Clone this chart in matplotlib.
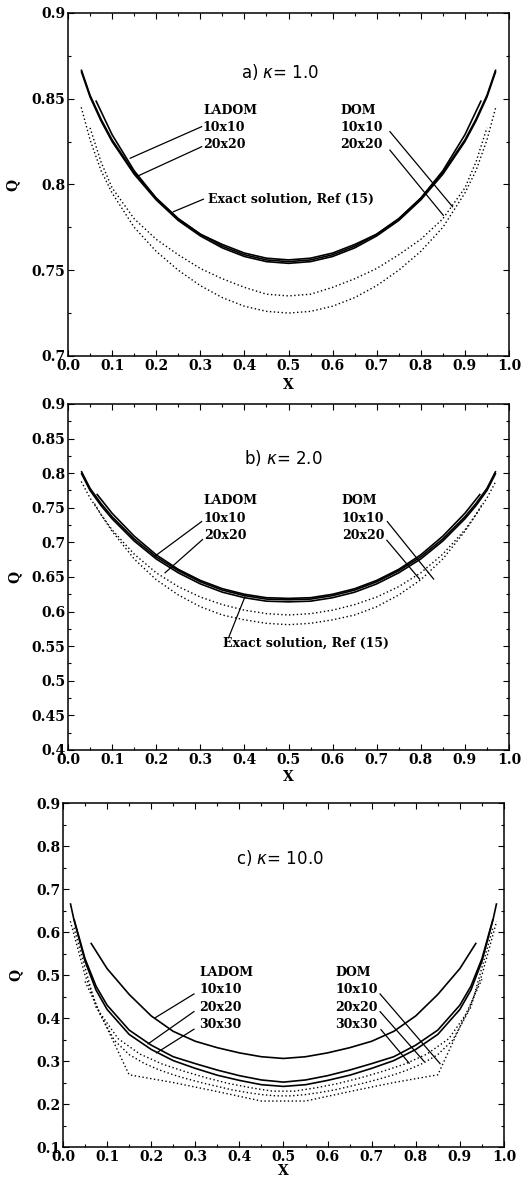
import matplotlib
matplotlib.use("Agg")
import matplotlib.pyplot as plt
from matplotlib.ticker import MultipleLocator, FormatStrFormatter, FuncFormatter

# ---- a) kappa = 1.0 ----
a_x20 = [0.03, 0.05, 0.075, 0.1, 0.15, 0.2, 0.25, 0.3, 0.35, 0.4, 0.45, 0.5,
         0.55, 0.6, 0.65, 0.7, 0.75, 0.8, 0.85, 0.9, 0.925, 0.95, 0.97]
a_exact = [0.867, 0.852, 0.838, 0.826, 0.807, 0.792, 0.780, 0.771, 0.765, 0.760, 0.757, 0.756,
           0.757, 0.760, 0.765, 0.771, 0.780, 0.792, 0.807, 0.826, 0.838, 0.852, 0.867]
a_ladom20 = [0.866, 0.851, 0.837, 0.825, 0.806, 0.791, 0.779, 0.770, 0.763, 0.758, 0.755, 0.754,
             0.755, 0.758, 0.763, 0.770, 0.779, 0.791, 0.806, 0.825, 0.837, 0.851, 0.866]
a_x10 = [0.063, 0.1, 0.15, 0.2, 0.25, 0.3, 0.35, 0.4, 0.45, 0.5,
         0.55, 0.6, 0.65, 0.7, 0.75, 0.8, 0.85, 0.9, 0.937]
a_ladom10 = [0.849, 0.829, 0.808, 0.792, 0.780, 0.771, 0.764, 0.759, 0.756, 0.755,
             0.756, 0.759, 0.764, 0.771, 0.780, 0.792, 0.808, 0.829, 0.849]
a_dom20 = [0.845, 0.826, 0.808, 0.795, 0.775, 0.761, 0.750, 0.741, 0.734, 0.729, 0.726, 0.725,
           0.726, 0.729, 0.734, 0.741, 0.750, 0.761, 0.775, 0.795, 0.808, 0.826, 0.845]
a_xd10 = [0.05, 0.075, 0.1, 0.15, 0.2, 0.25, 0.3, 0.35, 0.4, 0.45, 0.5,
          0.55, 0.6, 0.65, 0.7, 0.75, 0.8, 0.85, 0.9, 0.925, 0.95]
a_dom10 = [0.833, 0.813, 0.798, 0.780, 0.768, 0.759, 0.751, 0.745, 0.740, 0.736, 0.735,
           0.736, 0.740, 0.745, 0.751, 0.759, 0.768, 0.780, 0.798, 0.813, 0.833]

# ---- b) kappa = 2.0 ----
b_x20 = [0.03, 0.05, 0.075, 0.1, 0.15, 0.2, 0.25, 0.3, 0.35, 0.4, 0.45, 0.5,
         0.55, 0.6, 0.65, 0.7, 0.75, 0.8, 0.85, 0.9, 0.925, 0.95, 0.97]
b_exact = [0.800, 0.775, 0.753, 0.734, 0.702, 0.676, 0.656, 0.640, 0.628, 0.620, 0.615, 0.614,
           0.615, 0.620, 0.628, 0.640, 0.656, 0.676, 0.702, 0.734, 0.753, 0.775, 0.800]
b_ladom20 = [0.803, 0.778, 0.756, 0.737, 0.705, 0.679, 0.659, 0.643, 0.631, 0.623, 0.618, 0.617,
             0.618, 0.623, 0.631, 0.643, 0.659, 0.679, 0.705, 0.737, 0.756, 0.778, 0.803]
b_x10 = [0.065, 0.1, 0.15, 0.2, 0.25, 0.3, 0.35, 0.4, 0.45, 0.5,
         0.55, 0.6, 0.65, 0.7, 0.75, 0.8, 0.85, 0.9, 0.935]
b_ladom10 = [0.770, 0.742, 0.709, 0.682, 0.661, 0.645, 0.633, 0.625, 0.620, 0.619,
             0.620, 0.625, 0.633, 0.645, 0.661, 0.682, 0.709, 0.742, 0.770]
b_dom20 = [0.788, 0.764, 0.740, 0.718, 0.683, 0.656, 0.636, 0.621, 0.610, 0.602, 0.597, 0.595,
           0.597, 0.602, 0.610, 0.621, 0.636, 0.656, 0.683, 0.718, 0.740, 0.764, 0.788]
b_xd10 = [0.06, 0.075, 0.1, 0.15, 0.2, 0.25, 0.3, 0.35, 0.4, 0.45, 0.5,
          0.55, 0.6, 0.65, 0.7, 0.75, 0.8, 0.85, 0.9, 0.925, 0.94]
b_dom10 = [0.756, 0.740, 0.716, 0.676, 0.646, 0.624, 0.607, 0.595, 0.588, 0.583, 0.581,
           0.583, 0.588, 0.595, 0.607, 0.624, 0.646, 0.676, 0.716, 0.740, 0.756]

# ---- c) kappa = 10.0 ----
c_x10 = [0.063, 0.1, 0.15, 0.2, 0.25, 0.3, 0.35, 0.4, 0.45, 0.5,
         0.55, 0.6, 0.65, 0.7, 0.75, 0.8, 0.85, 0.9, 0.937]
c_ladom10 = [0.575, 0.515, 0.455, 0.405, 0.369, 0.346, 0.331, 0.319, 0.310, 0.306,
             0.310, 0.319, 0.331, 0.346, 0.369, 0.405, 0.455, 0.515, 0.575]
c_x20 = [0.025, 0.05, 0.075, 0.1, 0.15, 0.2, 0.25, 0.3, 0.35, 0.4, 0.45, 0.5,
         0.55, 0.6, 0.65, 0.7, 0.75, 0.8, 0.85, 0.9, 0.925, 0.95, 0.975]
c_ladom20 = [0.630, 0.538, 0.474, 0.430, 0.372, 0.337, 0.310, 0.294, 0.279, 0.266, 0.256, 0.251,
             0.256, 0.266, 0.279, 0.294, 0.310, 0.337, 0.372, 0.430, 0.474, 0.538, 0.630]
c_x30 = [0.0167, 0.025, 0.05, 0.075, 0.1, 0.15, 0.2, 0.25, 0.3, 0.35, 0.4, 0.45, 0.5,
         0.55, 0.6, 0.65, 0.7, 0.75, 0.8, 0.85, 0.9, 0.925, 0.95, 0.975, 0.9833]
c_ladom30 = [0.667, 0.628, 0.532, 0.465, 0.420, 0.362, 0.327, 0.301, 0.283, 0.267, 0.255, 0.245, 0.241,
             0.245, 0.255, 0.267, 0.283, 0.301, 0.327, 0.362, 0.420, 0.465, 0.532, 0.628, 0.667]
c_xd10 = [0.05, 0.15, 0.25, 0.35, 0.45, 0.55, 0.65, 0.75, 0.85, 0.95]
c_dom10 = [0.485, 0.268, 0.250, 0.229, 0.207, 0.207, 0.229, 0.250, 0.268, 0.490]
c_xd20 = [0.025, 0.075, 0.125, 0.175, 0.225, 0.275, 0.325, 0.375, 0.425, 0.475,
          0.525, 0.575, 0.625, 0.675, 0.725, 0.775, 0.825, 0.875, 0.925, 0.975]
c_dom20 = [0.610, 0.425, 0.352, 0.316, 0.293, 0.276, 0.261, 0.248, 0.238, 0.230,
           0.230, 0.238, 0.248, 0.261, 0.276, 0.293, 0.316, 0.352, 0.425, 0.610]
c_xd30 = [0.0167, 0.05, 0.0833, 0.1167, 0.15, 0.1833, 0.2167, 0.25, 0.2833, 0.3167,
          0.35, 0.3833, 0.4167, 0.45, 0.4833, 0.5167, 0.55, 0.5833, 0.6167, 0.65,
          0.6833, 0.7167, 0.75, 0.7833, 0.8167, 0.85, 0.8833, 0.9167, 0.95, 0.9833]
c_dom30 = [0.625, 0.500, 0.410, 0.348, 0.315, 0.295, 0.280, 0.268, 0.258, 0.249,
           0.241, 0.233, 0.227, 0.222, 0.219, 0.219, 0.222, 0.227, 0.233, 0.241,
           0.249, 0.258, 0.268, 0.280, 0.295, 0.315, 0.348, 0.410, 0.500, 0.625]

SOLID = dict(color="black", lw=1.2, solid_capstyle="butt")
DOTTED = dict(color="black", lw=1.0, linestyle=(0, (1, 1.8)))
POINTER = dict(color="black", lw=0.9)
LABEL_FONT = dict(fontsize=9, fontweight="bold", family="DejaVu Serif")

plt.rcParams["font.family"] = "DejaVu Serif"
plt.rcParams["font.weight"] = "bold"
plt.rcParams["mathtext.fontset"] = "custom"
plt.rcParams["mathtext.it"] = "DejaVu Sans:style=italic:weight=normal"
plt.rcParams["mathtext.rm"] = "DejaVu Sans:weight=normal"


def style_axes(ax, ymin, ymax, ystep, ylab_x, xlab_y):
    ax.set_xlim(0, 1)
    ax.set_ylim(ymin, ymax)
    ax.xaxis.set_major_locator(MultipleLocator(0.1))
    ax.xaxis.set_minor_locator(MultipleLocator(0.05))
    ax.yaxis.set_major_locator(MultipleLocator(ystep))
    ax.yaxis.set_minor_locator(MultipleLocator(ystep / 2))
    ax.xaxis.set_major_formatter(FormatStrFormatter("%.1f"))
    ax.yaxis.set_major_formatter(FuncFormatter(lambda v, p: f"{v:g}"))
    ax.tick_params(which="both", direction="in", top=True, right=True, width=0.8)
    ax.tick_params(which="major", length=4, labelsize=10, pad=2)
    ax.tick_params(which="minor", length=2)
    for s in ax.spines.values():
        s.set_linewidth(1.1)
    ax.set_ylabel("Q", fontsize=10, fontweight="bold")
    ax.set_xlabel("X", fontsize=10, fontweight="bold")
    ax.yaxis.set_label_coords(ylab_x, 0.5)
    ax.xaxis.set_label_coords(0.5, xlab_y)


def labels(ax, x, rows, texts):
    for y, t in zip(rows, texts):
        ax.text(x, y, t, ha="left", va="center", **LABEL_FONT)


def pointers(ax, segs):
    for (x0, y0), (x1, y1) in segs:
        ax.plot([x0, x1], [y0, y1], **POINTER)


def title(ax, x, y, txt):
    ax.text(x, y, txt, ha="center", va="center", fontsize=12,
            fontweight="normal", family="DejaVu Sans")


def panel_a(ax):
    ax.plot(a_x20, a_exact, **SOLID)
    ax.plot(a_x20, a_ladom20, **SOLID)
    ax.plot(a_x10, a_ladom10, **SOLID)
    ax.plot(a_x20, a_dom20, **DOTTED)
    ax.plot(a_xd10, a_dom10, **DOTTED)
    style_axes(ax, 0.7, 0.9, 0.05, -0.11, -0.064)
    title(ax, 0.481, 0.8658, r"a) $\kappa$= 1.0")
    rows = [0.8432, 0.8335, 0.8234]
    labels(ax, 0.306, rows, ["LADOM", "10x10", "20x20"])
    labels(ax, 0.618, rows, ["DOM", "10x10", "20x20"])
    ax.text(0.3175, 0.7914, "Exact solution, Ref (15)", ha="left", va="center", **LABEL_FONT)
    pointers(ax, [((0.303, 0.8337), (0.141, 0.8153)),
                  ((0.303, 0.8220), (0.159, 0.8050)),
                  ((0.307, 0.7914), (0.239, 0.7841)),
                  ((0.730, 0.8308), (0.872, 0.7870)),
                  ((0.730, 0.8200), (0.851, 0.7820))])


def panel_b(ax):
    ax.plot(b_x20, b_exact, **SOLID)
    ax.plot(b_x20, b_ladom20, **SOLID)
    ax.plot(b_x10, b_ladom10, **SOLID)
    ax.plot(b_x20, b_dom20, **DOTTED)
    ax.plot(b_xd10, b_dom10, **DOTTED)
    style_axes(ax, 0.4, 0.9, 0.05, -0.105, -0.058)
    title(ax, 0.488, 0.822, r"b) $\kappa$= 2.0")
    rows = [0.7603, 0.7348, 0.7092]
    labels(ax, 0.308, rows, ["LADOM", "10x10", "20x20"])
    labels(ax, 0.6206, rows, ["DOM", "10x10", "20x20"])
    ax.text(0.352, 0.554, "Exact solution, Ref (15)", ha="left", va="center", **LABEL_FONT)
    pointers(ax, [((0.303, 0.730), (0.197, 0.680)),
                  ((0.305, 0.704), (0.220, 0.656)),
                  ((0.364, 0.562), (0.401, 0.621)),
                  ((0.724, 0.730), (0.829, 0.647)),
                  ((0.723, 0.703), (0.797, 0.647))])


def panel_c(ax):
    ax.plot(c_x10, c_ladom10, **SOLID)
    ax.plot(c_x20, c_ladom20, **SOLID)
    ax.plot(c_x30, c_ladom30, **SOLID)
    ax.plot(c_xd10, c_dom10, **DOTTED)
    ax.plot(c_xd20, c_dom20, **DOTTED)
    ax.plot(c_xd30, c_dom30, **DOTTED)
    style_axes(ax, 0.1, 0.9, 0.1, -0.091, -0.048)
    title(ax, 0.492, 0.772, r"c) $\kappa$= 10.0")
    rows = [0.507, 0.466, 0.4256, 0.3844]
    labels(ax, 0.309, rows, ["LADOM", "10x10", "20x20", "30x30"])
    labels(ax, 0.617, rows, ["DOM", "10x10", "20x20", "30x30"])
    pointers(ax, [((0.297, 0.456), (0.208, 0.400)),
                  ((0.297, 0.415), (0.193, 0.340)),
                  ((0.297, 0.374), (0.212, 0.319)),
                  ((0.719, 0.456), (0.855, 0.294)),
                  ((0.719, 0.415), (0.819, 0.299)),
                  ((0.721, 0.373), (0.785, 0.295))])


def main():
    fig = plt.figure(figsize=(5.24, 11.79), dpi=100)
    ax_a = fig.add_axes([0.1298, 0.6981, 0.8416, 0.2909])
    ax_b = fig.add_axes([0.1298, 0.3639, 0.8416, 0.2935])
    ax_c = fig.add_axes([0.1202, 0.0271, 0.8416, 0.2918])
    panel_a(ax_a)
    panel_b(ax_b)
    panel_c(ax_c)
    fig.savefig("out.png", dpi=100, facecolor="white")
    plt.close(fig)


if __name__ == "__main__":
    main()
